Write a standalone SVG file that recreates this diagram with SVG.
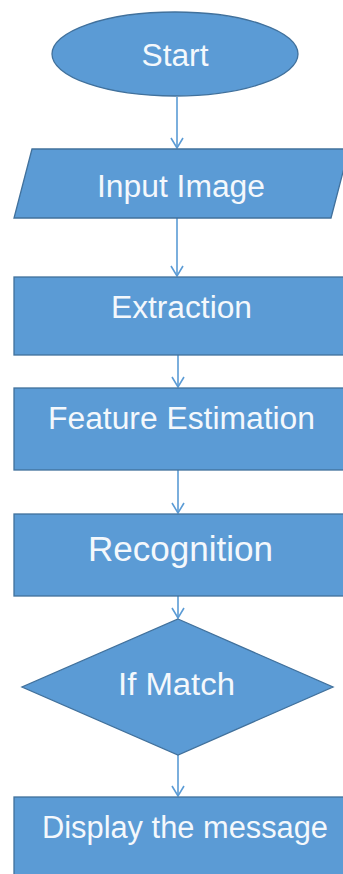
<svg xmlns="http://www.w3.org/2000/svg" width="343" height="874" viewBox="0 0 343 874">
<style>
.shape{fill:#5B9BD5;stroke:#41719C;stroke-width:1.3}
.lbl{font-family:"Liberation Sans",Arial,sans-serif;font-size:31px;fill:#F4F8FC;text-anchor:middle}
.conn{stroke:#5B9BD5;stroke-width:1.6;fill:none}
</style>
<defs>
<marker id="arr" markerUnits="userSpaceOnUse" markerWidth="14" markerHeight="16" refX="11" refY="7" orient="auto" viewBox="0 0 14 14">
<path d="M1,1 L11,7 L1,13" fill="none" stroke="#5B9BD5" stroke-width="1.6"/>
</marker>
</defs>
<rect width="343" height="874" fill="#FFFFFF"/>
<g id="connectors">
<line class="conn" x1="177" y1="97" x2="177" y2="148" marker-end="url(#arr)"/>
<line class="conn" x1="177" y1="218" x2="177" y2="276" marker-end="url(#arr)"/>
<line class="conn" x1="178" y1="355" x2="178" y2="387" marker-end="url(#arr)"/>
<line class="conn" x1="178" y1="470" x2="178" y2="513" marker-end="url(#arr)"/>
<line class="conn" x1="178" y1="596" x2="178" y2="618" marker-end="url(#arr)"/>
<line class="conn" x1="178" y1="755" x2="178" y2="796" marker-end="url(#arr)"/>
</g>
<g id="start">
<ellipse class="shape" cx="175" cy="54" rx="123" ry="42"/>
<text class="lbl" x="175" y="66" textLength="67" lengthAdjust="spacingAndGlyphs">Start</text>
</g>
<g id="input">
<polygon class="shape" points="32,149 349,149 331,218 14,218"/>
<text class="lbl" x="181" y="197" textLength="168" lengthAdjust="spacingAndGlyphs">Input Image</text>
</g>
<g id="extraction">
<rect class="shape" x="14" y="277" width="340" height="78"/>
<text class="lbl" x="181.5" y="318" textLength="141" lengthAdjust="spacingAndGlyphs">Extraction</text>
</g>
<g id="feature">
<rect class="shape" x="14" y="388" width="340" height="82"/>
<text class="lbl" x="181.5" y="429" textLength="267" lengthAdjust="spacingAndGlyphs">Feature Estimation</text>
</g>
<g id="recognition">
<rect class="shape" x="14" y="514" width="340" height="82"/>
<text class="lbl" x="180.5" y="561" style="font-size:35px" textLength="185" lengthAdjust="spacingAndGlyphs">Recognition</text>
</g>
<g id="ifmatch">
<polygon class="shape" points="178,619 333,687 178,755 22,687"/>
<text class="lbl" x="176.5" y="695" textLength="117" lengthAdjust="spacingAndGlyphs">If Match</text>
</g>
<g id="display">
<rect class="shape" x="14" y="797" width="340" height="90"/>
<text class="lbl" x="185" y="838" textLength="286" lengthAdjust="spacingAndGlyphs">Display the message</text>
</g>
</svg>
